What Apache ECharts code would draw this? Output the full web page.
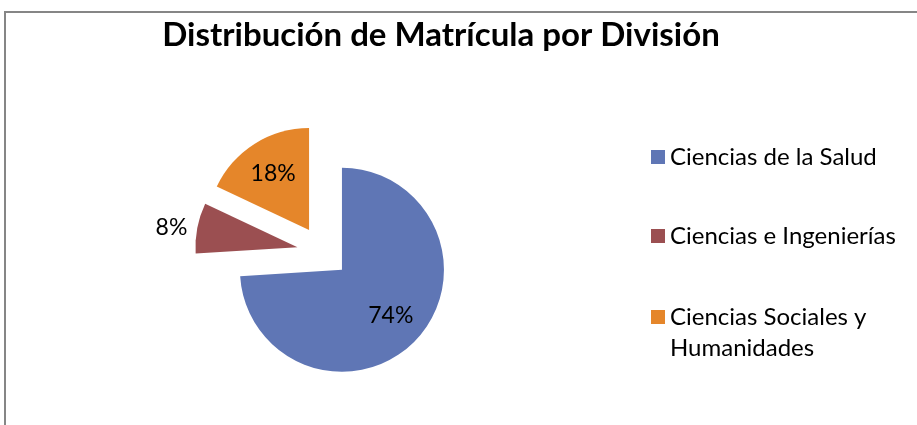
<!DOCTYPE html>
<html>
<head>
<meta charset="utf-8">
<script src="https://cdn.jsdelivr.net/npm/echarts@6/dist/echarts.min.js"></script>
<style>
  html, body { margin: 0; padding: 0; background: #fff; }
  #chart { width: 917px; height: 425px; }
</style>
</head>
<body>
<div id="chart"></div>
<script>
const divisiones = ['Ciencias de la Salud', 'Ciencias e Ingenierías', 'Ciencias Sociales y Humanidades'];
const porcentajes = [74, 8, 18];
const colores = ['#5f76b5', '#9b4f51', '#e5862a'];

// angulo medio de cada sector (desde arriba, sentido horario)
const total = porcentajes.reduce((a, b) => a + b, 0);
let acum = 0;
const medios = porcentajes.map(v => {
  const m = (acum + v / 2) / total * Math.PI * 2;
  acum += v;
  return m;
});

const font = 'Lato, "Liberation Sans", sans-serif';

// centro vertical de cada entrada de la leyenda
const leyendaCentros = [157, 236, 317];

const chart = echarts.init(document.getElementById('chart'));

chart.setOption({
  animation: false,
  title: {
    text: 'Distribución de Matrícula por División',
    left: 436,
    top: 14,
    textAlign: 'center',
    textStyle: { fontFamily: font, fontSize: 33, fontWeight: 'bold', color: '#000' },
  },
  graphic: [
    {
      type: 'polyline',
      shape: { points: [[5, 425], [5, 12], [917, 12]] },
      style: { stroke: '#868686', lineWidth: 2, fill: null },
      silent: true,
    },
  ],
  legend: divisiones.map((d, i) => ({
    data: [d],
    orient: 'vertical',
    left: 651,
    top: leyendaCentros[i] - (i === 2 ? 46.5 : 15.5),
    padding: 0,
    itemWidth: 14,
    itemHeight: 14,
    selectedMode: false,
    icon: 'rect',
    // linea vacia al inicio para que el icono quede junto a la primera linea
    formatter: name => name === 'Ciencias Sociales y Humanidades' ? '\nCiencias Sociales y\nHumanidades' : name,
    textStyle: {
      fontFamily: font,
      fontSize: 24,
      color: '#000',
      lineHeight: 31,
    },
  })),
  series: [
    {
      type: 'pie',
      center: [323, 252],
      radius: 102,
      startAngle: 90,
      clockwise: true,
      selectedMode: 'multiple',
      selectedOffset: 26,
      avoidLabelOverlap: false,
      silent: true,
      data: divisiones.map((d, i) => ({
        name: d,
        value: porcentajes[i],
        selected: true,
        itemStyle: { color: colores[i] },
        label: { position: i === 1 ? 'outside' : 'inside' },
      })),
      label: {
        show: true,
        formatter: '{c}%',
        fontFamily: font,
        fontSize: 23,
        color: '#000',
      },
      labelLine: { show: false, length: 5, length2: 0 },
      labelLayout: p => {
        if (p.dataIndex === 1) return {};
        const m = medios[p.dataIndex];
        return { dx: 13 * Math.sin(m), dy: -13 * Math.cos(m) };
      },
    },
  ],
});
</script>
</body>
</html>
